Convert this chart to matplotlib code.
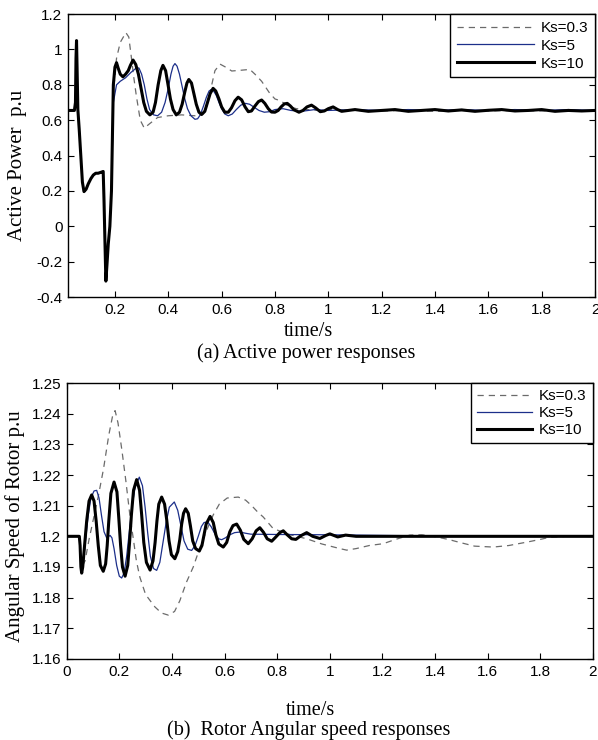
import matplotlib
matplotlib.use("Agg")
import matplotlib.pyplot as plt

# ---------------- data: Active power (p.u) ----------------
# shared disturbance segment (all three curves coincide here)
t_fault = [0.024, 0.048, 0.052, 0.054, 0.056, 0.058, 0.061, 0.066, 0.072, 0.078, 0.084,
           0.092, 0.10, 0.11, 0.119, 0.128, 0.137, 0.147, 0.156, 0.159, 0.162, 0.166,
           0.170, 0.175, 0.181, 0.187]
p_fault = [0.655, 0.655, 0.70, 0.95, 1.05, 0.90, 0.66, 0.55, 0.40, 0.25, 0.196,
           0.21, 0.24, 0.27, 0.29, 0.30, 0.30, 0.305, 0.31, 0.15, -0.05, -0.31,
           -0.22, -0.10, 0.00, 0.20]

t_p10 = [0.194, 0.200, 0.206, 0.212, 0.220, 0.230, 0.240, 0.250, 0.258, 0.268, 0.278,
         0.288, 0.298, 0.308, 0.318, 0.331, 0.343, 0.352, 0.362, 0.372, 0.380, 0.390,
         0.398, 0.408, 0.418, 0.430, 0.442, 0.452, 0.462, 0.470, 0.477, 0.487, 0.496,
         0.505, 0.515, 0.525, 0.537, 0.547, 0.557, 0.568, 0.578, 0.590, 0.600, 0.612,
         0.625, 0.637, 0.650, 0.662, 0.675, 0.688, 0.700, 0.712, 0.725, 0.738, 0.750,
         0.762, 0.775, 0.787, 0.800, 0.812, 0.823, 0.835, 0.846, 0.858, 0.870, 0.890,
         0.905, 0.920, 0.937, 0.952, 0.970, 0.985, 1.000, 1.018, 1.035, 1.050, 1.10,
         1.15, 1.20, 1.25, 1.30, 1.35, 1.40, 1.45, 1.50, 1.55, 1.60, 1.65, 1.70, 1.75,
         1.80, 1.85, 1.90, 1.95, 2.00]
p_p10 = [0.80, 0.90, 0.925, 0.895, 0.86, 0.845, 0.86, 0.88, 0.91, 0.94, 0.915,
         0.86, 0.78, 0.70, 0.65, 0.63, 0.645, 0.70, 0.80, 0.88, 0.91, 0.88,
         0.81, 0.72, 0.66, 0.63, 0.645, 0.69, 0.76, 0.81, 0.83, 0.81, 0.75,
         0.69, 0.645, 0.632, 0.65, 0.70, 0.75, 0.78, 0.765, 0.72, 0.675, 0.645,
         0.645, 0.67, 0.71, 0.73, 0.715, 0.675, 0.648, 0.652, 0.68, 0.705, 0.714,
         0.695, 0.665, 0.646, 0.645, 0.655, 0.675, 0.692, 0.695, 0.68, 0.66, 0.645,
         0.655, 0.675, 0.685, 0.67, 0.648, 0.652, 0.665, 0.675, 0.66, 0.65, 0.66,
         0.65, 0.655, 0.66, 0.65, 0.655, 0.66, 0.652, 0.658, 0.65, 0.656, 0.66, 0.652, 0.655,
         0.66, 0.65, 0.655, 0.652, 0.655]

t_p5 = [0.194, 0.206, 0.22, 0.24, 0.26, 0.28, 0.29, 0.30, 0.31, 0.32, 0.33, 0.345,
        0.36, 0.375, 0.388, 0.40, 0.41, 0.418, 0.425, 0.433, 0.442, 0.452, 0.462, 0.472,
        0.485, 0.50, 0.51, 0.52, 0.532, 0.543, 0.553, 0.56, 0.57, 0.58, 0.59, 0.60,
        0.612, 0.625, 0.64, 0.655, 0.672, 0.69, 0.705, 0.72, 0.74, 0.76, 0.78, 0.80,
        0.83, 0.86, 0.9, 0.95, 1.0, 1.1, 1.2, 1.3, 1.4, 1.5, 1.6, 1.7, 1.8, 1.9, 2.0]
p_p5 = [0.70, 0.80, 0.82, 0.84, 0.87, 0.895, 0.895, 0.86, 0.80, 0.72, 0.66, 0.63,
        0.625, 0.645, 0.70, 0.78, 0.86, 0.905, 0.92, 0.905, 0.86, 0.79, 0.72, 0.665,
        0.625, 0.605, 0.608, 0.63, 0.68, 0.73, 0.765, 0.772, 0.765, 0.74, 0.70, 0.665,
        0.635, 0.625, 0.635, 0.66, 0.685, 0.695, 0.69, 0.675, 0.655, 0.645, 0.648, 0.66,
        0.665, 0.655, 0.65, 0.66, 0.655, 0.66, 0.655, 0.66, 0.655, 0.66, 0.655, 0.66,
        0.655, 0.66, 0.655]

t_p03 = [0.194, 0.206, 0.22, 0.241, 0.252, 0.262, 0.27, 0.28, 0.295, 0.31, 0.33, 0.36,
         0.40, 0.45, 0.50, 0.53, 0.545, 0.56, 0.575, 0.594, 0.615, 0.638, 0.67, 0.706,
         0.725, 0.75, 0.78, 0.80, 0.82, 0.85, 0.88, 0.92, 0.96, 1.0, 1.1, 1.2, 1.3, 1.4,
         1.5, 1.6, 1.7, 1.8, 1.9, 2.0]
p_p03 = [0.75, 0.95, 1.04, 1.095, 1.07, 0.95, 0.85, 0.74, 0.60, 0.555, 0.58, 0.615,
         0.625, 0.63, 0.625, 0.635, 0.68, 0.78, 0.88, 0.917, 0.90, 0.878, 0.882, 0.887,
         0.86, 0.82, 0.753, 0.72, 0.71, 0.68, 0.665, 0.66, 0.655, 0.66, 0.655, 0.652, 0.655,
         0.65, 0.655, 0.652, 0.655, 0.652, 0.655, 0.652]

# ---------------- data: Rotor angular speed (p.u) ----------------
t_w10 = [0.0, 0.048, 0.051, 0.054, 0.057, 0.061, 0.068, 0.076, 0.085, 0.095, 0.104,
         0.112, 0.120, 0.128, 0.139, 0.148, 0.154, 0.160, 0.168, 0.180, 0.191, 0.198,
         0.205, 0.212, 0.222, 0.232, 0.239, 0.246, 0.254, 0.266, 0.277, 0.285, 0.293,
         0.303, 0.317, 0.328, 0.336, 0.343, 0.350, 0.361, 0.372, 0.380, 0.389, 0.398,
         0.411, 0.422, 0.430, 0.437, 0.444, 0.452, 0.462, 0.470, 0.479, 0.490, 0.504,
         0.514, 0.522, 0.530, 0.545, 0.557, 0.567, 0.578, 0.595, 0.608, 0.620, 0.632,
         0.646, 0.660, 0.673, 0.690, 0.705, 0.720, 0.734, 0.748, 0.762, 0.779, 0.795,
         0.810, 0.823, 0.838, 0.855, 0.871, 0.890, 0.912, 0.935, 0.962, 0.985, 1.000,
         1.030, 1.060, 1.100, 2.000]
w_w10 = [1.2, 1.2, 1.197, 1.19, 1.188, 1.19, 1.197, 1.205, 1.2115, 1.2135, 1.2115,
         1.205, 1.197, 1.1905, 1.1886, 1.191, 1.197, 1.205, 1.214, 1.2177, 1.2145, 1.206,
         1.197, 1.19, 1.187, 1.1905, 1.198, 1.207, 1.215, 1.2185, 1.215, 1.207, 1.198,
         1.1915, 1.189, 1.192, 1.198, 1.205, 1.2105, 1.2128, 1.2105, 1.2055, 1.1985, 1.194,
         1.1927, 1.195, 1.199, 1.204, 1.2075, 1.209, 1.2075, 1.2035, 1.1985, 1.196, 1.1952,
         1.197, 1.2005, 1.204, 1.2065, 1.2045, 1.2005, 1.1975, 1.1965, 1.198, 1.2015, 1.2035,
         1.204, 1.202, 1.199, 1.1976, 1.1992, 1.2018, 1.2028, 1.2013, 1.1992, 1.1984, 1.1998,
         1.2012, 1.2018, 1.2005, 1.1992, 1.199, 1.2002, 1.2012, 1.2, 1.1993, 1.2003, 1.2008,
         1.1998, 1.2004, 1.2, 1.2]

t_w5 = [0.0, 0.048, 0.052, 0.057, 0.063, 0.072, 0.082, 0.092, 0.104, 0.114, 0.123,
        0.132, 0.142, 0.152, 0.160, 0.165, 0.172, 0.180, 0.190, 0.200, 0.209, 0.218,
        0.228, 0.238, 0.248, 0.260, 0.276, 0.288, 0.298, 0.308, 0.318, 0.330, 0.342,
        0.354, 0.366, 0.378, 0.390, 0.409, 0.422, 0.434, 0.446, 0.460, 0.475, 0.488,
        0.500, 0.512, 0.522, 0.536, 0.550, 0.565, 0.577, 0.589, 0.603, 0.620, 0.638,
        0.658, 0.680, 0.700, 0.800, 1.000, 1.200, 1.500, 2.000]
w_w5 = [1.2, 1.2, 1.195, 1.19, 1.1915, 1.199, 1.207, 1.2125, 1.2148, 1.215, 1.2125,
        1.207, 1.2015, 1.1995, 1.2, 1.2003, 1.1995, 1.196, 1.1905, 1.187, 1.1864, 1.188,
        1.1935, 1.2015, 1.2095, 1.216, 1.2193, 1.2165, 1.2095, 1.201, 1.1935, 1.1895, 1.1889,
        1.1915, 1.198, 1.2045, 1.2095, 1.2112, 1.2085, 1.2035, 1.1985, 1.1958, 1.1954, 1.197,
        1.2, 1.2032, 1.2045, 1.2047, 1.203, 1.2005, 1.1992, 1.1989, 1.1995, 1.2005, 1.2012,
        1.2014, 1.201, 1.2007, 1.2006, 1.2005, 1.2003, 1.2, 1.2]

t_w03 = [0.0, 0.048, 0.057, 0.07, 0.085, 0.10, 0.12, 0.14, 0.16, 0.175, 0.184, 0.195,
         0.21, 0.225, 0.24, 0.253, 0.265, 0.278, 0.30, 0.335, 0.36, 0.386, 0.41, 0.43,
         0.455, 0.481, 0.505, 0.532, 0.557, 0.58, 0.61, 0.652, 0.68, 0.703, 0.725, 0.747,
         0.785, 0.85, 0.912, 0.97, 1.038, 1.064, 1.10, 1.15, 1.203, 1.25, 1.304, 1.35,
         1.393, 1.45, 1.494, 1.55, 1.621, 1.68, 1.748, 1.80, 1.836, 1.9, 2.0]
w_w03 = [1.2, 1.2, 1.19, 1.192, 1.199, 1.205, 1.213, 1.222, 1.233, 1.2395, 1.241, 1.237,
         1.228, 1.218, 1.207, 1.1993, 1.192, 1.1867, 1.181, 1.177, 1.175, 1.1743, 1.1755,
         1.179, 1.185, 1.19, 1.196, 1.202, 1.207, 1.2105, 1.2125, 1.2128, 1.2118, 1.21,
         1.208, 1.2063, 1.2025, 1.2005, 1.1992, 1.1975, 1.196, 1.1955, 1.196, 1.197, 1.1976,
         1.199, 1.2004, 1.2005, 1.2, 1.199, 1.198, 1.1968, 1.1965, 1.197, 1.1981, 1.199,
         1.1997, 1.2, 1.2]

labels = ["Ks=0.3", "Ks=5", "Ks=10"]
xticks_a = [0.2, 0.4, 0.6, 0.8, 1.0, 1.2, 1.4, 1.6, 1.8, 2.0]
xticks_b = [0.0, 0.2, 0.4, 0.6, 0.8, 1.0, 1.2, 1.4, 1.6, 1.8, 2.0]
yticks_a = [-0.4, -0.2, 0.0, 0.2, 0.4, 0.6, 0.8, 1.0, 1.2]
yticks_b = [1.16, 1.17, 1.18, 1.19, 1.2, 1.21, 1.22, 1.23, 1.24, 1.25]

# ---------------- styling ----------------
SANS = "Liberation Sans"
SERIF = "Liberation Serif"
C_GREY = "#6b6b6b"
C_BLUE = "#1c2f8a"
C_BLACK = "#000000"
TICK_FS = 11
TEXT_FS = 14.5
YLAB_FS = 15


def fmt(v):
    s = ("%.2f" % v).rstrip("0").rstrip(".")
    if s == "-0":
        s = "0"
    return s


def style_axes(ax, xt, yt, xlim, ylim):
    ax.set_xlim(*xlim)
    ax.set_ylim(*ylim)
    ax.set_xticks(xt)
    ax.set_xticklabels([fmt(v) for v in xt], family=SANS, fontsize=TICK_FS)
    ax.set_yticks(yt)
    ax.set_yticklabels([fmt(v) for v in yt], family=SANS, fontsize=TICK_FS)
    ax.tick_params(direction="in", top=True, right=True, length=4, width=0.8,
                   pad=4)
    for sp in ax.spines.values():
        sp.set_linewidth(1.0)


fig = plt.figure(figsize=(5.98, 7.40), dpi=100)

# ---- (a) Active power ----
ax1 = fig.add_axes([0.1137, 0.5986, 0.8813, 0.3824])
ax1.plot(t_fault + t_p03, p_fault + p_p03, color=C_GREY, lw=0.9, ls=(0, (5, 4)),
         label=labels[0])
ax1.plot(t_fault + t_p5, p_fault + p_p5, color=C_BLUE, lw=0.9, label=labels[1])
ax1.plot(t_fault + t_p10, p_fault + p_p10, color=C_BLACK, lw=2.2, label=labels[2])
style_axes(ax1, xticks_a, yticks_a, (0.024, 2.0), (-0.4, 1.2))
ax1.set_ylabel("Active Power  p.u", family=SERIF, fontsize=YLAB_FS, va="center")
ax1.yaxis.set_label_coords(-0.095, 0.466)
leg1 = ax1.legend(loc="upper right", prop={"family": SANS, "size": 11},
                  frameon=True, fancybox=False, framealpha=1, edgecolor="black",
                  borderaxespad=0.0, handlelength=5.0, labelspacing=0.25,
                  borderpad=0.45, handletextpad=0.45)
leg1.get_frame().set_linewidth(1.0)
fig.text(0.516, 0.5514, "time/s", family=SERIF, fontsize=TEXT_FS, ha="center", va="center")
fig.text(0.5125, 0.523, "(a) Active power responses", family=SERIF, fontsize=TEXT_FS,
         ha="center", va="center")

# ---- (b) Rotor angular speed ----
ax2 = fig.add_axes([0.1115, 0.1095, 0.8801, 0.3729])
ax2.plot(t_w03, w_w03, color=C_GREY, lw=0.9, ls=(0, (5, 4)), label=labels[0])
ax2.plot(t_w5, w_w5, color=C_BLUE, lw=0.9, label=labels[1])
ax2.plot(t_w10, w_w10, color=C_BLACK, lw=2.2, label=labels[2])
style_axes(ax2, xticks_b, yticks_b, (0.0, 2.0), (1.16, 1.25))
ax2.set_ylabel("Angular Speed of Rotor p.u", family=SERIF, fontsize=YLAB_FS, va="center")
ax2.yaxis.set_label_coords(-0.099, 0.482)
leg2 = ax2.legend(loc="upper right", prop={"family": SANS, "size": 11},
                  frameon=True, fancybox=False, framealpha=1, edgecolor="black",
                  borderaxespad=0.0, handlelength=3.6, labelspacing=0.2,
                  borderpad=0.4, handletextpad=0.45)
leg2.get_frame().set_linewidth(1.0)
fig.text(0.519, 0.0405, "time/s", family=SERIF, fontsize=TEXT_FS, ha="center", va="center")
fig.text(0.517, 0.0135, "(b)  Rotor Angular speed responses", family=SERIF, fontsize=TEXT_FS,
         ha="center", va="center")

fig.savefig("out.png", dpi=100)
